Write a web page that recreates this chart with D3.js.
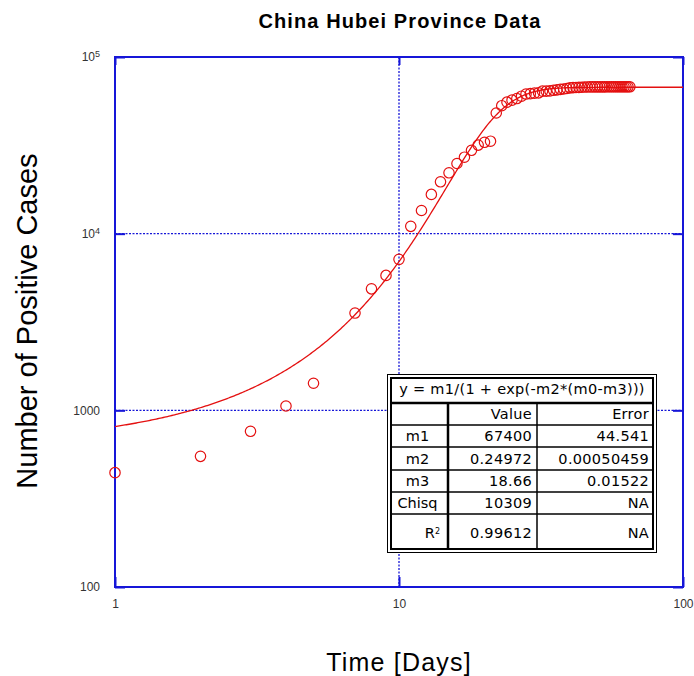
<!DOCTYPE html>
<html>
<head>
<meta charset="utf-8">
<script src="https://cdn.jsdelivr.net/npm/d3@7"></script>
<style>
  body { margin: 0; background: #fff; }
  svg { display: block; }
</style>
</head>
<body>
<svg id="chart" width="694" height="676"></svg>
<script>
var days = [1, 2, 3, 4, 5, 7, 8, 9, 10, 11, 12, 13, 14, 15, 16, 17, 18, 19, 20, 21,
            22, 23, 24, 25, 26, 27, 28, 29, 30, 31, 32, 33, 34, 35, 36, 37, 38, 39, 40,
            41, 42, 43, 44, 45, 46, 47, 48, 49, 50, 51, 52, 53, 54, 55, 56, 57, 58, 59,
            60, 61, 62, 63, 64, 65];
var cases = [444, 549, 761, 1058, 1423, 3554, 4870, 5806, 7153, 11000, 13522, 16678, 19665, 22112,
             24953, 27100, 29631, 31728, 32900, 33366, 48206, 53000, 55500, 57000, 58182,
             59989, 61682, 62031, 62442, 62662, 64084, 64084, 64287, 64786, 65187, 65596,
             65914, 66337, 66907, 67103, 67217, 67332, 67466, 67592, 67666, 67707, 67743,
             67760, 67773, 67781, 67786, 67790, 67794, 67798, 67799, 67800, 67800, 67800,
             67800, 67800, 67801, 67801, 67801, 67801];

// fit results shown in the box
var fitFormula = 'y = m1/(1 + exp(-m2*(m0-m3)))';
var paramNames = ['m1', 'm2', 'm3', 'Chisq', 'R2'];
var paramValues = ['67400', '0.24972', '18.66', '10309', '0.99612'];
var paramErrors = ['44.541', '0.00050459', '0.01522', 'NA', 'NA'];

var xTicks = [1, 10, 100];
var yTicks = [100, 1000, 10000, 100000];
var xGrid = [10];
var yGrid = [1000, 10000];

var svg = d3.select('#chart');
var plotL = 115, plotR = 683, plotT = 57, plotB = 587;
var blue = '#1616d8', red = '#e41010';

var x = d3.scaleLog().domain([1, 100]).range([plotL, plotR]);
var y = d3.scaleLog().domain([100, 100000]).range([plotB, plotT]);

// title + axis labels
svg.append('text')
    .attr('x', 400).attr('y', 28)
    .attr('text-anchor', 'middle')
    .style('font', 'bold 20px "Liberation Sans", Arial, sans-serif')
    .style('letter-spacing', '1.1px')
    .text('China Hubei Province Data');

svg.append('text')
    .attr('x', 399).attr('y', 671)
    .attr('text-anchor', 'middle')
    .style('font', '25px "Liberation Sans", Arial, sans-serif')
    .style('letter-spacing', '1.2px')
    .text('Time [Days]');

svg.append('text')
    .attr('transform', 'translate(37,321) rotate(-90)')
    .attr('text-anchor', 'middle')
    .style('font', '29px "Liberation Sans", Arial, sans-serif')
    .text('Number of Positive Cases');

// dotted grid
svg.append('g').selectAll('line')
    .data(xGrid).enter().append('line')
    .attr('x1', function(d){ return x(d); }).attr('x2', function(d){ return x(d); })
    .attr('y1', plotT).attr('y2', plotB)
    .style('stroke', blue).style('stroke-width', 1.3).style('stroke-dasharray', '2,1.5');

svg.append('g').selectAll('line')
    .data(yGrid).enter().append('line')
    .attr('y1', function(d){ return y(d); }).attr('y2', function(d){ return y(d); })
    .attr('x1', plotL).attr('x2', plotR)
    .style('stroke', blue).style('stroke-width', 1.3).style('stroke-dasharray', '2,1.5');

// axes with inward ticks
function styleAxis(g) {
    g.select('.domain').remove();
    g.selectAll('line').style('stroke', blue).style('stroke-width', 2);
    g.selectAll('text')
        .style('font', '12px "Liberation Sans", Arial, sans-serif')
        .style('fill', '#333');
}

var supFmt = function(d) {
    return d >= 10000 ? '' : d3.format('d')(d);
};

svg.append('g')
    .attr('transform', 'translate(0,' + plotB + ')')
    .call(d3.axisBottom(x).tickValues(xTicks).tickFormat(d3.format('d'))
        .tickSizeInner(-10).tickSizeOuter(0).tickPadding(12))
    .call(styleAxis);

svg.append('g')
    .attr('transform', 'translate(0,' + plotT + ')')
    .call(d3.axisTop(x).tickValues(xTicks).tickFormat('')
        .tickSizeInner(-8).tickSizeOuter(0))
    .call(styleAxis);

var yAxisG = svg.append('g')
    .attr('transform', 'translate(' + plotL + ',0)')
    .call(d3.axisLeft(y).tickValues(yTicks).tickFormat(supFmt)
        .tickSizeInner(-10).tickSizeOuter(0).tickPadding(15))
    .call(styleAxis);

yAxisG.selectAll('.tick text')
    .filter(function(d){ return d >= 10000; })
    .each(function(d) {
        var t = d3.select(this);
        t.append('tspan').text('10');
        t.append('tspan').attr('dy', '-0.45em').style('font-size', '9px')
            .text(Math.round(Math.log10(d)));
    });

svg.append('g')
    .attr('transform', 'translate(' + plotR + ',0)')
    .call(d3.axisRight(y).tickValues(yTicks).tickFormat('')
        .tickSizeInner(-10).tickSizeOuter(0))
    .call(styleAxis);

// frame
svg.append('rect')
    .attr('x', plotL).attr('y', plotT)
    .attr('width', plotR - plotL).attr('height', plotB - plotT)
    .style('fill', 'none').style('stroke', blue).style('stroke-width', 2);

// fitted logistic curve from the table parameters
var m1 = +paramValues[0], m2 = +paramValues[1], m3 = +paramValues[2];
var curveDays = d3.range(0, 2.0001, 0.005).map(function(t){ return Math.pow(10, t); });
var line = d3.line()
    .x(function(d){ return x(d); })
    .y(function(d){ return y(m1 / (1 + Math.exp(-m2 * (d - m3)))); });

svg.append('path')
    .datum(curveDays)
    .attr('d', line)
    .style('fill', 'none').style('stroke', red).style('stroke-width', 1.3);

// data points
svg.append('g').selectAll('circle')
    .data(days).enter().append('circle')
    .attr('cx', function(d){ return x(d); })
    .attr('cy', function(d, i){ return y(cases[i]); })
    .attr('r', 5.2)
    .style('fill', 'none').style('stroke', red).style('stroke-width', 1.2);

// results table
var tx0 = 387, tx1 = 657, ty0 = 374, ty1 = 553;
var colX = [tx0, 448, 537, tx1];
var rowY = [377, 403, 425, 447, 470, 492, 514, 549];
var tableFont = '14.5px "DejaVu Sans", Verdana, sans-serif';

var tbl = svg.append('g');
tbl.append('rect')
    .attr('x', tx0 + 0.5).attr('y', ty0 + 0.5)
    .attr('width', tx1 - tx0 - 1).attr('height', ty1 - ty0 - 1)
    .style('fill', '#fff').style('stroke', '#000').style('stroke-width', 1);
tbl.append('rect')
    .attr('x', tx0 + 4).attr('y', ty0 + 4)
    .attr('width', tx1 - tx0 - 8).attr('height', ty1 - ty0 - 8)
    .style('fill', 'none').style('stroke', '#000').style('stroke-width', 2);

tbl.selectAll('line.row')
    .data(rowY.slice(1, -1)).enter().append('line')
    .attr('x1', tx0 + 4).attr('x2', tx1 - 4)
    .attr('y1', function(d){ return d; }).attr('y2', function(d){ return d; })
    .style('stroke', '#000').style('stroke-width', function(d, i){ return i == 0 ? 2.5 : 1.5; });

tbl.selectAll('line.col')
    .data(colX.slice(1, -1)).enter().append('line')
    .attr('y1', rowY[1]).attr('y2', ty1 - 4)
    .attr('x1', function(d){ return d; }).attr('x2', function(d){ return d; })
    .style('stroke', '#000').style('stroke-width', function(d, i){ return i == 0 ? 2.5 : 1.5; });

tbl.append('text')
    .attr('x', (tx0 + tx1) / 2).attr('y', 394)
    .attr('text-anchor', 'middle')
    .style('font', tableFont)
    .style('letter-spacing', '0.3px')
    .text(fitFormula);

var header = ['', 'Value', 'Error'];
var rows = [header].concat(paramNames.map(function(n, i){
    return [n, paramValues[i], paramErrors[i]];
}));

rows.forEach(function(r, i) {
    var cy = (rowY[i + 1] + rowY[i + 2]) / 2 + 5;
    if (i == rows.length - 1) cy += 1;
    var nameText = tbl.append('text')
        .attr('x', i == rows.length - 1 ? 440 : (colX[0] + colX[1]) / 2)
        .attr('y', cy)
        .attr('text-anchor', i == rows.length - 1 ? 'end' : 'middle')
        .style('font', tableFont);
    if (r[0] == 'R2') {
        nameText.append('tspan').text('R');
        nameText.append('tspan').attr('dy', '-0.5em').style('font-size', '8px').text('2');
    } else {
        nameText.text(r[0]);
    }
    tbl.append('text')
        .attr('x', colX[2] - 5).attr('y', cy)
        .attr('text-anchor', 'end')
        .style('font', tableFont)
        .style('letter-spacing', '0.3px')
        .text(r[1]);
    tbl.append('text')
        .attr('x', colX[3] - 8).attr('y', cy)
        .attr('text-anchor', 'end')
        .style('font', tableFont)
        .style('letter-spacing', '0.3px')
        .text(r[2]);
});
</script>
</body>
</html>
